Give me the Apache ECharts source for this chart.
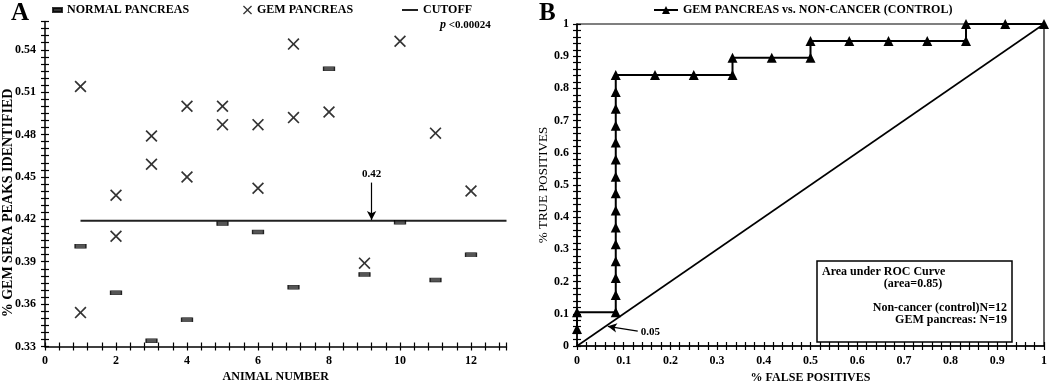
<!DOCTYPE html>
<html>
<head>
<meta charset="utf-8">
<script src="https://cdn.jsdelivr.net/npm/echarts@6/dist/echarts.min.js"></script>
<style>
html, body { margin: 0; padding: 0; background: #fff; }
#chart { width: 1050px; height: 384px; }
</style>
</head>
<body>
<div id="chart"></div>
<script>
// panel A - % GEM sera peaks per animal
const normalX = [1, 2, 3, 4, 5, 6, 7, 8, 9, 10, 11, 12]
const normalY = [0.401, 0.368, 0.334, 0.349, 0.417, 0.411, 0.372, 0.5265, 0.381, 0.418, 0.377, 0.395]
const gemX = [1, 1, 2, 2, 3, 3, 4, 4, 5, 5, 6, 6, 7, 7, 8, 9, 10, 11, 12]
const gemY = [0.514, 0.354, 0.437, 0.408, 0.479, 0.459, 0.500, 0.450, 0.500, 0.487, 0.487, 0.442, 0.544, 0.492, 0.496, 0.389, 0.546, 0.481, 0.440]
const cutoffX = [1, 13]
const cutoffValue = 0.419
const cutoffArrow = { x: 9.2, from: 0.446, to: 0.4195, label: '0.42' }

// panel B - ROC curve
const rocFpr = [0, 0, 0.083, 0.083, 0.083, 0.083, 0.083, 0.083, 0.083, 0.083, 0.083, 0.083, 0.083, 0.083, 0.083, 0.083, 0.083,
  0.167, 0.25, 0.333, 0.333, 0.417, 0.5, 0.5, 0.583, 0.667, 0.75, 0.833, 0.833, 0.917, 1]
const rocTpr = [0.053, 0.105, 0.105, 0.158, 0.211, 0.263, 0.316, 0.368, 0.421, 0.474, 0.526, 0.579, 0.632, 0.684, 0.737, 0.789, 0.842,
  0.842, 0.842, 0.842, 0.895, 0.895, 0.895, 0.947, 0.947, 0.947, 0.947, 0.947, 1, 1, 1]
const diagX = [0, 1]
const diagY = [0, 1]
const diagArrow = { from: [0.13, 0.046], to: [0.066, 0.061], label: '0.05' }

const serif = '"Liberation Serif", "Times New Roman", serif'
const crossPath = 'path://M0,1L1,0L5,4L9,0L10,1L6,5L10,9L9,10L5,6L1,10L0,9L4,5Z'
const txt = { fontFamily: serif, fontWeight: 'bold', fontSize: 12, color: '#000' }

const zip = (xs, ys) => xs.map((x, i) => [x, ys[i]])
const near = (v, step) => Math.abs(v / step - Math.round(v / step)) < 1e-6

// main axis has outside ticks + labels, twin axis adds inside ticks so they cross
function axisPair(grid, min, max, interval, position, labelFmt, margin, extra) {
  const main = Object.assign({
    gridIndex: grid, type: 'value', min: min, max: max, interval: interval, position: position,
    axisLine: { show: true, onZero: false, lineStyle: { color: '#000', width: 1.5 } },
    axisTick: { show: true, length: 4, lineStyle: { color: '#000', width: 1.2 } },
    axisLabel: Object.assign({ formatter: labelFmt, margin: margin, showMinLabel: true, showMaxLabel: true }, txt),
    splitLine: { show: false }
  }, extra || {})
  const twin = {
    gridIndex: grid, type: 'value', min: min, max: max, interval: interval, position: position,
    axisLine: { show: false },
    axisTick: { show: true, inside: true, length: 4, lineStyle: { color: '#000', width: 1.2 } },
    axisLabel: { show: false },
    splitLine: { show: false }
  }
  return [main, twin]
}

const fmtAx = v => { const r = Math.round(v); return near(v, 2) && r <= 12 ? String(r) : '' }
const fmtAy = v => near(v, 0.03) && v < 0.555 ? v.toFixed(2) : ''
const fmtB = v => near(v, 0.1) ? String(Math.round(v * 10) / 10) : ''

const xA = axisPair(0, 0, 13, 0.4, 'bottom', fmtAx, 8, {
  name: 'ANIMAL NUMBER', nameLocation: 'middle', nameGap: 20, nameTextStyle: txt
})
const yA = axisPair(0, 0.33, 0.56, 0.005, 'left', fmtAy, 9)
const xB = axisPair(1, 0, 1, 0.02, 'bottom', fmtB, 9, {
  name: '% FALSE POSITIVES', nameLocation: 'middle', nameGap: 22, nameTextStyle: txt
})
const yB = axisPair(1, 0, 1, 0.02, 'left', fmtB, 8, {
  name: '% TRUE POSITIVES', nameLocation: 'middle', nameGap: 24,
  nameTextStyle: { fontFamily: serif, fontSize: 13, color: '#000' }
})

const legendBase = { top: 4, padding: 0, selectedMode: false, textStyle: txt }

let myChart = echarts.init(document.getElementById('chart'))
myChart.setOption({
  animation: false,
  backgroundColor: '#fff',
  grid: [
    { left: 45, top: 21.5, width: 461.5, height: 325, outerBoundsMode: 'none', containLabel: false },
    { left: 577, top: 24, width: 467, height: 322, outerBoundsMode: 'none', containLabel: false,
      show: true, borderColor: '#000', borderWidth: 1.2 }
  ],
  xAxis: [xA[0], xA[1], xB[0], xB[1]],
  yAxis: [yA[0], yA[1], yB[0], yB[1]],
  legend: [
    Object.assign({}, legendBase, { left: 52, itemWidth: 9, itemHeight: 4, data: [{ name: 'NORMAL PANCREAS', icon: 'rect', itemStyle: { color: '#000' } }] }),
    Object.assign({}, legendBase, { left: 243, itemWidth: 9, itemHeight: 9, data: [{ name: 'GEM PANCREAS', icon: crossPath }] }),
    Object.assign({}, legendBase, { left: 402, itemWidth: 16, itemHeight: 2, data: [{ name: 'CUTOFF', icon: 'rect' }] }),
    Object.assign({}, legendBase, { left: 653, itemWidth: 24, itemHeight: 10, data: ['GEM PANCREAS vs. NON-CANCER (CONTROL)'] })
  ],
  series: [
    {
      name: 'CUTOFF',
      type: 'line',
      xAxisIndex: 0,
      yAxisIndex: 0,
      data: zip(cutoffX, cutoffX.map(() => cutoffValue)),
      symbol: 'none',
      lineStyle: { color: '#222', width: 2 },
      itemStyle: { color: '#222' },
      z: 2,
      markLine: {
        silent: true,
        symbol: ['none', 'arrow'],
        symbolSize: [7, 9],
        lineStyle: { color: '#000', width: 1.2, type: 'solid' },
        label: Object.assign({ show: true, position: 'start', formatter: cutoffArrow.label, distance: 3 }, txt, { fontSize: 11 }),
        data: [[{ coord: [cutoffArrow.x, cutoffArrow.from] }, { coord: [cutoffArrow.x, cutoffArrow.to] }]]
      }
    },
    {
      name: 'NORMAL PANCREAS',
      type: 'scatter',
      xAxisIndex: 0,
      yAxisIndex: 0,
      data: zip(normalX, normalY),
      symbol: 'rect',
      symbolSize: [11, 4],
      itemStyle: { color: '#2a2a2a', borderColor: '#000', borderWidth: 0.8 },
      z: 3
    },
    {
      name: 'GEM PANCREAS',
      type: 'scatter',
      xAxisIndex: 0,
      yAxisIndex: 0,
      data: zip(gemX, gemY),
      symbol: crossPath,
      symbolSize: 12,
      itemStyle: { color: '#000' },
      z: 3
    },
    {
      name: 'diagonal',
      type: 'line',
      xAxisIndex: 2,
      yAxisIndex: 2,
      data: zip(diagX, diagY),
      symbol: 'none',
      lineStyle: { color: '#000', width: 1.6 },
      z: 2,
      markLine: {
        silent: true,
        symbol: ['none', 'arrow'],
        symbolSize: [7, 9],
        lineStyle: { color: '#000', width: 1.2, type: 'solid' },
        label: Object.assign({ show: true, position: 'start', formatter: diagArrow.label, distance: 3 }, txt, { fontSize: 11 }),
        data: [[{ coord: diagArrow.from }, { coord: diagArrow.to }]]
      }
    },
    {
      name: 'GEM PANCREAS vs. NON-CANCER (CONTROL)',
      type: 'line',
      xAxisIndex: 2,
      yAxisIndex: 2,
      data: zip(rocFpr, rocTpr),
      symbol: 'triangle',
      symbolSize: 10,
      showAllSymbol: true,
      clip: false,
      lineStyle: { color: '#000', width: 2 },
      itemStyle: { color: '#000' },
      z: 4
    }
  ],
  graphic: [
    { type: 'text', x: 11, y: 1, style: { text: 'A', font: 'bold 25px ' + serif, fill: '#000' } },
    { type: 'text', x: 539, y: 1, style: { text: 'B', font: 'bold 25px ' + serif, fill: '#000' } },
    {
      type: 'text', x: 8, y: 203, rotation: Math.PI / 2,
      style: { text: '% GEM SERA PEAKS IDENTIFIED', font: 'bold 14px ' + serif, fill: '#000', align: 'center', verticalAlign: 'middle' }
    },
    {
      type: 'text', x: 440, y: 19,
      style: {
        text: '{i|p} <0.00024', font: 'bold 11px ' + serif, fill: '#000',
        rich: { i: { fontStyle: 'italic', fontWeight: 'bold', fontSize: 12, fontFamily: serif } }
      }
    },
    {
      type: 'group', z: 20,
      children: [
        { type: 'rect', shape: { x: 817, y: 261, width: 195, height: 81 }, style: { fill: '#fff', stroke: '#000', lineWidth: 1.5 } },
        { type: 'text', x: 822, y: 272, style: { text: 'Area under ROC Curve', font: 'bold 12px ' + serif, fill: '#000', verticalAlign: 'middle' } },
        { type: 'text', x: 913, y: 284, style: { text: '(area=0.85)', font: 'bold 12px ' + serif, fill: '#000', align: 'center', verticalAlign: 'middle' } },
        { type: 'text', x: 1007, y: 308, style: { text: 'Non-cancer (control)N=12', font: 'bold 12px ' + serif, fill: '#000', align: 'right', verticalAlign: 'middle' } },
        { type: 'text', x: 1007, y: 320, style: { text: 'GEM pancreas: N=19', font: 'bold 12px ' + serif, fill: '#000', align: 'right', verticalAlign: 'middle' } }
      ]
    }
  ]
})
</script>
</body>
</html>
